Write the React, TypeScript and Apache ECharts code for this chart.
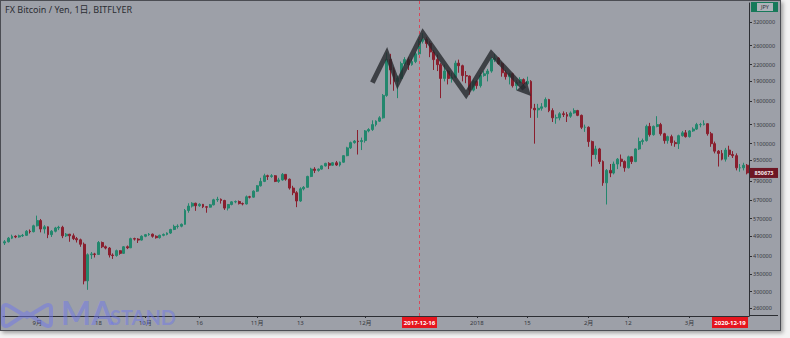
import React, { useEffect, useRef } from "react";
import * as echarts from "echarts";

// ---- data (prices in thousands of JPY) ----
const startDate = "2017-08-23";
// [open, close, low, high]
const ohlcAug: number[][] = [
  [460,465,452,472],[465,480,462,485],[480,488,476,495],[488,485,480,492],[485,490,482,495],[490,492,485,498],[492,510,490,515],[510,508,500,518],[508,535,505,540],
];
const ohlcSep: number[][] = [
  [535,560,532,585],[560,520,505,568],[520,530,500,538],[530,495,480,532],[495,510,485,515],[510,525,505,530],[525,528,515,535],[528,490,480,535],[490,497,485,502],[497,490,465,498],
  [490,478,472,500],[478,473,462,485],[473,455,445,478],[455,330,320,462],[330,415,305,420],[415,418,400,425],[418,416,405,422],[416,462,414,468],[462,445,440,466],[445,440,435,450],
  [440,414,405,444],[414,412,400,420],[412,430,408,434],[430,420,415,432],[420,445,418,448],[445,441,436,450],[441,478,440,482],[478,476,470,482],[476,472,460,480],[472,488,470,492],
];
const ohlcOct: number[][] = [
  [488,495,484,498],[495,497,490,502],[497,488,482,500],[488,482,478,492],[482,492,478,495],[492,496,488,500],[496,502,492,505],[502,518,498,521],[518,532,515,540],[532,533,522,542],
  [533,542,528,546],[542,612,540,620],[612,636,600,652],[636,652,628,658],[652,638,610,655],[638,646,632,652],[646,632,625,648],[632,630,600,636],[630,643,628,648],[643,672,640,678],
  [672,675,660,690],[675,668,650,680],[668,625,615,672],[625,645,612,648],[645,660,640,664],[660,662,652,668],[662,650,645,668],[650,648,640,656],[648,690,645,698],[690,688,680,696],[688,725,685,730],
];
const ohlcNov: number[][] = [
  [725,760,720,765],[760,790,755,815],[790,830,785,845],[830,825,800,838],[825,830,815,842],[830,790,785,835],[790,800,780,815],[800,840,795,850],[840,805,795,842],[805,745,735,810],
  [745,715,700,760],[715,665,630,725],[665,740,660,750],[740,750,730,758],[750,825,748,830],[825,880,820,890],[880,870,850,895],[870,880,860,885],[880,905,875,910],[905,925,900,930],
  [925,910,880,935],[910,930,905,935],[930,912,905,945],[912,935,900,940],[935,990,930,995],[990,1060,985,1070],[1060,1110,1050,1120],[1110,1125,1100,1135],[1125,1120,1000,1240],[1120,1130,1040,1160],
];
const ohlcDec: number[][] = [
  [1130,1230,1110,1240],[1230,1245,1215,1260],[1245,1300,1230,1350],[1300,1340,1280,1350],[1340,1380,1330,1400],[1380,1680,1370,1700],[1680,2300,1660,2450],[2300,2100,1850,2420],[2100,1900,1750,2150],[1900,1950,1640,2000],
  [1950,2220,1930,2260],[2220,2300,2180,2350],[2300,2200,2100,2350],[2200,2260,2180,2320],[2260,2420,2230,2460],[2420,2700,2400,2760],[2700,2750,2650,2900],[2750,2650,2550,2800],[2650,2460,2350,2700],[2460,2300,2100,2500],
  [2300,2200,2080,2400],[2200,1950,1640,2230],[1950,2080,1900,2200],[2080,1950,1850,2100],[1950,1970,1880,2050],[1970,2230,1950,2280],[2230,2180,2050,2300],[2180,2000,1900,2200],[2000,1990,1870,2080],[1990,1760,1690,2000],[1760,1900,1740,1930],
];
const ohlcJan: number[][] = [
  [1900,1830,1780,1920],[1830,2000,1800,2050],[2000,2030,1980,2080],[2030,2080,1900,2120],[2080,2300,2050,2350],[2300,2330,2250,2420],[2330,2220,2200,2350],[2220,2050,1980,2250],[2050,1980,1930,2100],[1980,2030,1850,2050],
  [2030,1830,1800,2050],[1830,1880,1760,1920],[1880,1930,1870,1970],[1930,1860,1830,1950],[1860,1900,1840,1980],[1900,1500,1380,1920],[1500,1480,1100,1560],[1480,1500,1380,1560],[1500,1520,1470,1570],[1520,1620,1510,1650],
  [1620,1470,1450,1630],[1470,1380,1330,1500],[1380,1380,1310,1420],[1380,1430,1350,1450],[1430,1420,1390,1460],[1420,1400,1330,1450],[1400,1440,1380,1460],[1440,1470,1430,1500],[1470,1410,1400,1480],[1410,1270,1250,1420],[1270,1270,1220,1300],
];
const ohlcFeb: number[][] = [
  [1270,1120,1070,1280],[1120,1000,900,1130],[1000,1050,960,1080],[1050,940,920,1060],[940,780,760,950],[780,870,645,880],[870,850,820,920],[850,920,840,940],[920,960,880,970],[960,940,900,1000],
  [940,890,860,950],[890,980,885,990],[980,940,920,985],[940,1050,935,1055],[1050,1120,1040,1160],[1120,1130,1090,1150],[1130,1280,1120,1300],[1280,1190,1170,1320],[1190,1280,1180,1290],[1280,1300,1270,1400],
  [1300,1200,1180,1320],[1200,1130,1100,1210],[1130,1170,1100,1180],[1170,1110,1080,1190],[1110,1100,1070,1130],[1100,1180,1050,1190],[1180,1210,1170,1230],[1210,1170,1160,1240],
];
const ohlcMar: number[][] = [
  [1170,1230,1160,1240],[1230,1250,1220,1270],[1250,1300,1240,1320],[1300,1300,1270,1320],[1300,1310,1290,1350],[1310,1200,1180,1315],[1200,1100,1070,1220],[1100,1030,1010,1120],[1030,1010,900,1040],[1010,960,950,1040],
  [960,1040,940,1060],[1040,1000,980,1080],[1000,990,970,1030],[990,890,870,1010],[890,890,860,920],[890,910,870,930],[910,850.673,840,920],
];
const ohlcK: number[][] = [...ohlcAug, ...ohlcSep, ...ohlcOct, ...ohlcNov, ...ohlcDec, ...ohlcJan, ...ohlcFeb, ...ohlcMar];

const dates: string[] = (() => {
  const out: string[] = [];
  const d0 = new Date(startDate + "T00:00:00Z");
  for (let i = 0; i < ohlcK.length; i++) {
    const d = new Date(d0.getTime() + i * 86400000);
    out.push(d.toISOString().slice(0, 10));
  }
  return out;
})();

const xLabels: Record<string, string> = {
  "2017-09-01": "9月", "2017-09-18": "18", "2017-10-01": "10月", "2017-10-16": "16",
  "2017-11-01": "11月", "2017-11-13": "13", "2017-12-01": "12月", "2018-01-01": "2018",
  "2018-01-15": "15", "2018-02-01": "2月", "2018-02-12": "12", "2018-03-01": "3月",
};
const priceTicksK = [260, 300, 350, 410, 490, 570, 670, 790, 950, 1100, 1300, 1600, 1900, 2200, 2600, 3200];
const lastPriceText = "850673";
const highlightDate = "2017-12-16";
const cornerDateText = "2020-12-19";
const titleText = "FX Bitcoin / Yen, 1日, BITFLYER";
// drawn zig-zag arrow annotation: [date, price K]
const arrowPoints: [string, number][] = [
  ["2017-12-03", 1880], ["2017-12-07", 2430], ["2017-12-10", 1870], ["2017-12-17", 2900],
  ["2017-12-29", 1690], ["2018-01-05", 2430], ["2018-01-16", 1670],
];

const UP = "#23876d";
const DOWN = "#8a1f2e";
const AXIS = "#2c2e33";
const LABEL = "#34363c";
const WM = "rgba(108,118,238,0.48)";

const App: React.FC = () => {
  const ref = useRef<HTMLDivElement>(null);
  useEffect(() => {
    if (!ref.current) return;
    echarts.graphic.registerShape(
      "maLogo",
      echarts.graphic.extendPath(
        "M3,21 L3,8 Q3,2 9,5 L27,16 L45,5 Q51,2 51,8 L51,21 Q51,27 45,24 L27,12 L9,24 Q3,27 3,21 Z",
        {}
      )
    );
    const chart = echarts.init(ref.current, undefined, { renderer: "svg" });
    chart.setOption({
      animation: false,
      backgroundColor: "transparent",
      grid: { left: 2, right: 31, top: 2, bottom: 14 },
      xAxis: {
        type: "category",
        data: dates,
        boundaryGap: true,
        axisLine: { show: true, lineStyle: { color: AXIS, width: 1 } },
        axisTick: {
          show: true,
          alignWithLabel: true,
          interval: (_i: number, v: string) => v in xLabels,
          length: 2,
          lineStyle: { color: AXIS },
        },
        axisLabel: {
          interval: (_i: number, v: string) => v in xLabels,
          formatter: (v: string) => xLabels[v] ?? "",
          fontSize: 6,
          color: LABEL,
          margin: 4,
          fontFamily: "Noto Sans, Noto Sans CJK JP, sans-serif",
        },
        splitLine: { show: false },
      },
      yAxis: {
        type: "log",
        logBase: 10,
        position: "right",
        min: 242.4,
        max: 3780,
        axisLine: { show: true, lineStyle: { color: AXIS, width: 1 } },
        axisTick: { show: true, customValues: priceTicksK, length: 3, lineStyle: { color: AXIS } },
        axisLabel: {
          customValues: priceTicksK,
          formatter: (v: number) => String(Math.round(v * 1000)),
          fontSize: 5.5,
          color: LABEL,
          margin: 4,
          fontFamily: "Noto Sans, sans-serif",
        },
        splitLine: { show: false },
      },
      series: [
        {
          type: "candlestick",
          data: ohlcK,
          barWidth: 2.4,
          itemStyle: { color: UP, color0: DOWN, borderColor: UP, borderColor0: DOWN, borderWidth: 1 },
        },
      ],
    });

    const toPx = (d: string, p: number) => chart.convertToPixel({ gridIndex: 0 }, [d, p]) as number[];
    const pts = arrowPoints.map(([d, p]) => toPx(d, p));
    const tip = pts[pts.length - 1];
    const prev = pts[pts.length - 2];
    const dx = tip[0] - prev[0], dy = tip[1] - prev[1];
    const len = Math.hypot(dx, dy);
    const ux = dx / len, uy = dy / len;
    const headLen = 14, headW = 7;
    const base = [tip[0] - ux * headLen, tip[1] - uy * headLen];
    const linePts = [...pts.slice(0, -1), [tip[0] - ux * headLen * 0.7, tip[1] - uy * headLen * 0.7]];
    const head = [
      tip,
      [base[0] - uy * headW, base[1] + ux * headW],
      [base[0] + uy * headW, base[1] - ux * headW],
    ];
    const hx = Math.round(toPx(highlightDate, 1000)[0]) + 0.5;
    const lastClose = ohlcK[ohlcK.length - 1][1];
    const py = toPx(dates[dates.length - 1], lastClose)[1];

    chart.setOption({
      graphic: [
        {
          type: "text", left: 4, top: 4,
          style: { text: titleText, fontSize: 9, fill: "#2b2d33", fontFamily: "Noto Sans, Noto Sans CJK JP, sans-serif" },
        },
        { type: "line", shape: { x1: 748, y1: 314.5, x2: 777, y2: 314.5 }, style: { stroke: AXIS, lineWidth: 1 } },
        // crosshair vertical line
        {
          type: "line", shape: { x1: hx, y1: 0, x2: hx, y2: 315 },
          style: { stroke: "#e23a4c", lineWidth: 1, lineDash: [3, 3], opacity: 0.85 }, z: 50,
        },
        {
          type: "polyline", shape: { points: linePts },
          style: { stroke: "rgba(38,40,44,0.8)", lineWidth: 5, fill: "none", lineJoin: "miter" }, z: 100,
        },
        { type: "polygon", shape: { points: head }, style: { fill: "rgba(38,40,44,0.8)" }, z: 100 },
        // crosshair date label
        { type: "rect", shape: { x: hx - 17.5, y: 316, width: 35, height: 11 }, style: { fill: "#e5161e" }, z: 101 },
        {
          type: "text", x: hx, y: 321.5,
          style: { text: highlightDate, fontSize: 6, fill: "#ffffff", align: "center", verticalAlign: "middle", fontFamily: "Noto Sans, sans-serif", fontWeight: "bold" }, z: 102,
        },
        // corner date label
        { type: "rect", shape: { x: 711, y: 316, width: 36, height: 11 }, style: { fill: "#e5161e" }, z: 101 },
        {
          type: "text", x: 729, y: 321.5,
          style: { text: cornerDateText, fontSize: 6, fill: "#ffffff", align: "center", verticalAlign: "middle", fontFamily: "Noto Sans, sans-serif", fontWeight: "bold" }, z: 102,
        },
        // last price label
        { type: "rect", shape: { x: 749, y: py - 5, width: 28, height: 10 }, style: { fill: "#6d1624" }, z: 101 },
        {
          type: "text", x: 763, y: py,
          style: { text: lastPriceText, fontSize: 5.5, fill: "#f2e6e8", align: "center", verticalAlign: "middle", fontFamily: "Noto Sans, sans-serif", fontWeight: "bold" }, z: 102,
        },
        // currency box
        { type: "rect", shape: { x: 750, y: 1, width: 27, height: 10 }, style: { fill: "#17795a" }, z: 101 },
        { type: "rect", shape: { x: 756, y: 2, width: 16, height: 8 }, style: { fill: "#aeb2b9" }, z: 101 },
        {
          type: "text", x: 764, y: 6,
          style: { text: "JPY", fontSize: 5.5, fill: "#2b2d33", align: "center", verticalAlign: "middle", fontFamily: "Noto Sans, sans-serif" }, z: 102,
        },
        // watermark
        { type: "maLogo", x: -1, y: 300, style: { fill: "none", stroke: WM, lineWidth: 4 }, z: 90 },
        {
          type: "text", x: 60, y: 295,
          style: { text: "MA", fontSize: 32, fontWeight: "bold", fill: WM, fontFamily: "Lato, sans-serif", verticalAlign: "top" }, z: 90,
        },
        {
          type: "text", x: 109, y: 306,
          style: { text: "STAND", fontSize: 20, fontWeight: "bold", fill: WM, fontFamily: "Lato, sans-serif", verticalAlign: "top" }, z: 90,
        },
      ],
    });
    return () => chart.dispose();
  }, []);

  return (
    <div style={{ position: "fixed", left: 0, top: 0, width: 790, height: 338, background: "#f3f3f3" }}>
      <div
        style={{
          position: "absolute", left: 0, top: 0, width: 781, height: 331, boxSizing: "border-box",
          border: "1px solid #4b4d53", boxShadow: "2px 2px 4px rgba(0,0,0,0.35)", background: "#9da0a8",
        }}
      >
        <div ref={ref} style={{ width: 779, height: 329 }} />
      </div>
    </div>
  );
};

export default App;
